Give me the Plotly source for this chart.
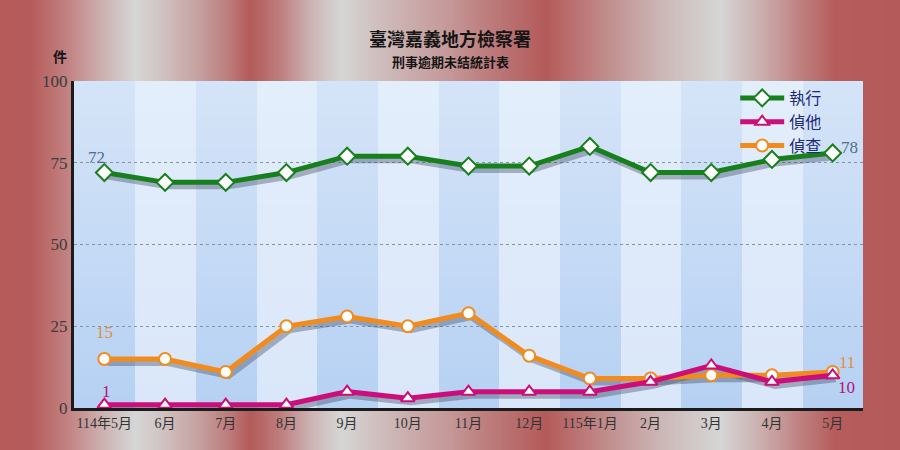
import plotly.graph_objects as go
import zlib, struct, base64

# ---------------- data ----------------
months = ["114年5月", "6月", "7月", "8月", "9月", "10月", "11月", "12月",
          "115年1月", "2月", "3月", "4月", "5月"]
exec_vals = [72, 69, 69, 72, 77, 77, 74, 74, 80, 72, 72, 76, 78]    # 執行
other_vals = [1, 1, 1, 1, 5, 3, 5, 5, 5, 8, 13, 8, 10]               # 偵他
inv_vals = [15, 15, 11, 25, 28, 25, 29, 16, 9, 9, 10, 10, 11]       # 偵查
y_ticks = [0, 25, 50, 75, 100]

# ---------------- helpers for background images ----------------
def hex2rgb(h):
    h = h.lstrip('#')
    return tuple(int(h[i:i + 2], 16) for i in (0, 2, 4))

def lerp(c1, c2, t):
    return tuple(int(round(a + (b - a) * t)) for a, b in zip(c1, c2))

def make_png(w, h, pixel):
    raw = bytearray()
    for yy in range(h):
        raw.append(0)
        for xx in range(w):
            raw.extend(pixel(xx, yy))
    def chunk(tag, data):
        return (struct.pack('>I', len(data)) + tag + data +
                struct.pack('>I', zlib.crc32(tag + data) & 0xffffffff))
    png = (b'\x89PNG\r\n\x1a\n' +
           chunk(b'IHDR', struct.pack('>IIBBBBB', w, h, 8, 2, 0, 0, 0)) +
           chunk(b'IDAT', zlib.compress(bytes(raw), 9)) +
           chunk(b'IEND', b''))
    return 'data:image/png;base64,' + base64.b64encode(png).decode()

# metallic red/grey paper gradient
stops = [(0, '#b65a5a'), (30, '#b65b5b'), (70, '#c38585'), (100, '#ccaeae'),
         (135, '#d6d6d6'), (165, '#d0c0c0'), (200, '#c59e9e'), (228, '#bd7c7c'),
         (250, '#b45a5a'), (280, '#be7e7e'), (310, '#ccb2b2'), (340, '#d6d6d6'),
         (370, '#d1c3c3'), (420, '#c9a6a6'), (450, '#c49797'), (485, '#bd7e7e'),
         (545, '#b45a5a'), (580, '#bc7676'), (620, '#c49898'), (660, '#ccb6b6'),
         (720, '#d6d6d6'), (760, '#cbafaf'), (800, '#bf8080'), (835, '#b65c5c'),
         (900, '#b45a5a')]
stops_rgb = [(x, hex2rgb(c)) for x, c in stops]
row = []
for xx in range(900):
    for i in range(len(stops_rgb) - 1):
        x0, c0 = stops_rgb[i]
        x1, c1 = stops_rgb[i + 1]
        if x0 <= xx <= x1:
            row.append(lerp(c0, c1, (xx - x0) / (x1 - x0)))
            break
paper_img = make_png(900, 1, lambda xx, yy: row[xx])

# plot-area striped bands
PW, PH = 789, 327
NB = len(months)
dark_top, dark_bot = hex2rgb('#d5e4f8'), hex2rgb('#b6d1f3')
light_top, light_bot = hex2rgb('#e3eefb'), hex2rgb('#dae7fa')
BH = 60
band_cols = [int(xx * NB / PW) for xx in range(PW)]
dark_rows = [lerp(dark_top, dark_bot, yy / (BH - 1)) for yy in range(BH)]
light_rows = [lerp(light_top, light_bot, yy / (BH - 1)) for yy in range(BH)]
band_img = make_png(PW, BH, lambda xx, yy: dark_rows[yy] if band_cols[xx] % 2 == 0 else light_rows[yy])

# ---------------- styles ----------------
GREEN = '#17801c'
MAGENTA = '#cc0e7a'
ORANGE = '#f28b1e'
SHADOW = 'rgba(60,70,95,0.38)'
num_font = 'Liberation Serif, DejaVu Serif, serif'
cjk_font = 'Liberation Serif, Noto Sans CJK TC, serif'

fig = go.Figure()

# invisible trace to anchor base axes
fig.add_trace(go.Scatter(x=months, y=exec_vals, mode='lines', opacity=0,
                         showlegend=False, hoverinfo='skip', xaxis='x', yaxis='y'))

series = [
    ('偵查', inv_vals, ORANGE, 'circle', 3, 12),
    ('偵他', other_vals, MAGENTA, 'triangle-up', 2, 12),
    ('執行', exec_vals, GREEN, 'diamond', 1, 13),
]

# shadows
for name, vals, col, sym, rank, sz in series:
    fig.add_trace(go.Scatter(x=months, y=vals, mode='lines',
                             line=dict(color=SHADOW, width=6),
                             showlegend=False, hoverinfo='skip',
                             xaxis='x2', yaxis='y2'))
# main lines
for name, vals, col, sym, rank, sz in series:
    fig.add_trace(go.Scatter(x=months, y=vals, mode='lines+markers', name=name,
                             line=dict(color=col, width=5),
                             marker=dict(symbol=sym, size=sz,
                                         color='white', line=dict(color=col, width=2)),
                             legendrank=rank, xaxis='x3', yaxis='y3'))

dx = 3 / (PW / NB)
dy = 4 / (PH / 100)
fig.update_layout(
    width=900, height=450,
    margin=dict(l=74, r=37, t=81, b=42),
    paper_bgcolor='#b65a5a',
    plot_bgcolor='rgba(0,0,0,0)',
    showlegend=True,
    legend=dict(x=0.838, y=1.0, xanchor='left', yanchor='top', xref='paper', yref='paper',
                bgcolor='rgba(0,0,0,0)', itemwidth=44,
                font=dict(family='Noto Sans CJK TC', size=16, color='#1d2a78')),
    xaxis=dict(type='category', categoryorder='array', categoryarray=months,
               range=[-0.5, NB - 0.5], showgrid=False, zeroline=False,
               showline=True, linecolor='#1b1b1b', linewidth=3, ticks='',
               tickfont=dict(family=cjk_font, size=14, color='#333333')),
    yaxis=dict(range=[0, 100], tickvals=y_ticks, showgrid=True,
               gridcolor='#8593a8', griddash='dot', gridwidth=1, zeroline=False,
               showline=True, linecolor='#1b1b1b', linewidth=3, ticks='',
               tickfont=dict(family=num_font, size=17, color='#3c3c3c')),
    xaxis2=dict(type='category', categoryorder='array', categoryarray=months,
                overlaying='x', range=[-0.5 - dx, NB - 0.5 - dx], visible=False),
    yaxis2=dict(overlaying='y', range=[dy, 100 + dy], visible=False),
    xaxis3=dict(type='category', categoryorder='array', categoryarray=months,
                overlaying='x', range=[-0.5, NB - 0.5], visible=False),
    yaxis3=dict(overlaying='y', range=[0, 100], visible=False),
    images=[
        dict(source=paper_img, xref='paper', yref='paper', x=-74 / PW, y=1 + 81 / PH,
             sizex=900 / PW, sizey=450 / PH, xanchor='left', yanchor='top',
             sizing='stretch', layer='below'),
        dict(source=band_img, xref='paper', yref='paper', x=0, y=1,
             sizex=1, sizey=1, xanchor='left', yanchor='top',
             sizing='stretch', layer='below'),
    ],
)

def px_to_paper(px, py):
    return (px - 74) / PW, 1 - (py - 81) / PH

ann = []
for text, px, py, size in [('<b>臺灣嘉義地方檢察署</b>', 450, 38, 18),
                           ('<b>刑事逾期未結統計表</b>', 450, 62, 13),
                           ('<b>件</b>', 60, 56, 14)]:
    xp, yp = px_to_paper(px, py)
    ann.append(dict(text=text, x=xp, y=yp, xref='paper', yref='paper', showarrow=False,
                    xanchor='center', yanchor='middle',
                    font=dict(family='Noto Sans CJK TC', size=size, color='#151515')))

labels = [
    (months[0], exec_vals[0], '#4d6f8f', -8, 15),
    (months[-1], exec_vals[-1], '#4d6f8f', 17, 5),
    (months[0], inv_vals[0], '#e58d38', 0, 26),
    (months[-1], inv_vals[-1], '#e58d38', 14, 10),
    (months[0], other_vals[0], '#b3137c', 2, 13),
    (months[-1], other_vals[-1], '#b3137c', 14, -12),
]
for xv, yv, col, xs, ys in labels:
    ann.append(dict(x=xv, y=yv, xref='x', yref='y', text=str(yv), showarrow=False,
                    xshift=xs, yshift=ys,
                    font=dict(family=num_font, size=17, color=col)))
fig.update_layout(annotations=ann)

fig.write_html("out.html")
